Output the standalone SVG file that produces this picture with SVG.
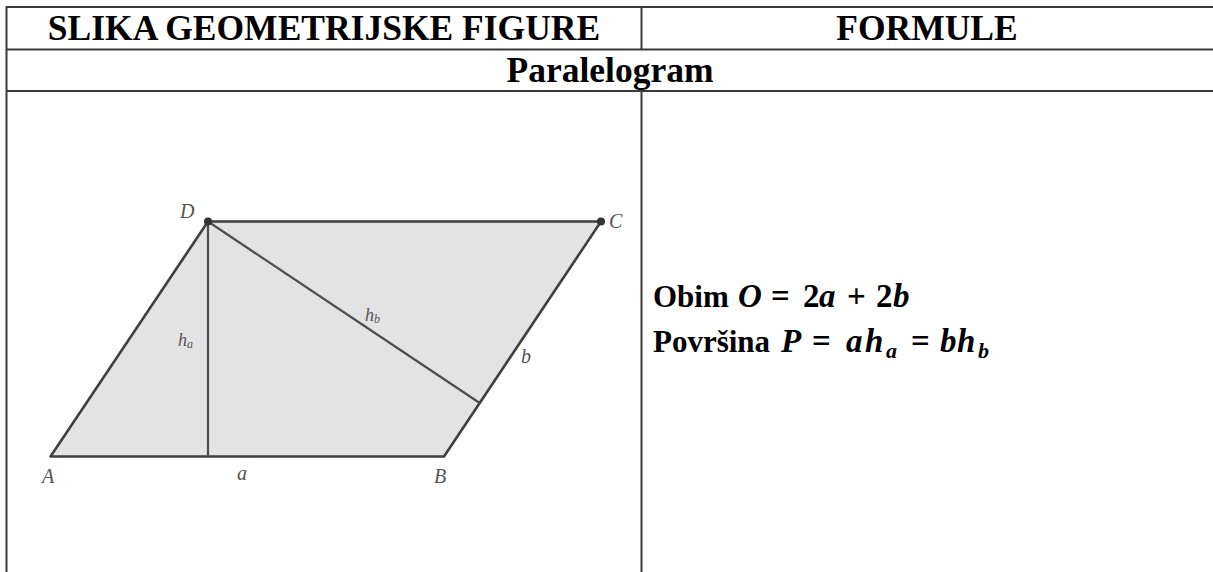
<svg xmlns="http://www.w3.org/2000/svg" width="1213" height="572" viewBox="0 0 1213 572">
  <style>
    .grid { stroke: #3a3a3a; stroke-width: 2; fill: none; }
    .head { font-family: "Liberation Serif", "Times New Roman", serif; font-weight: bold; font-size: 35.5px; fill: #000; text-anchor: middle; }
    .txt { font-family: "Liberation Serif", "Times New Roman", serif; font-weight: bold; font-size: 31px; fill: #000; }
    .mi { font-style: italic; font-size: 33px; }
    .mo { font-size: 33px; }
    .sub { font-size: 22px; font-style: italic; }
    .edge { stroke: #3f3f3f; stroke-width: 2.6; fill: none; stroke-linejoin: round; }
    .inner { stroke: #4d4d4d; stroke-width: 2.2; fill: none; }
    .lbl { font-family: "Liberation Serif", "Times New Roman", serif; font-style: italic; font-size: 20px; fill: #555; }
    .lbls { font-family: "Liberation Serif", "Times New Roman", serif; font-style: italic; font-size: 18px; fill: #555; }
    .lblsub { font-size: 12px; }
  </style>
  <rect x="0" y="0" width="1213" height="572" fill="#fff"/>

  <g id="table">
    <line class="grid" x1="6.5" y1="7" x2="1213" y2="7"/>
    <line class="grid" x1="6.5" y1="49.5" x2="1213" y2="49.5"/>
    <line class="grid" x1="6.5" y1="91" x2="1213" y2="91"/>
    <line class="grid" x1="6.5" y1="6" x2="6.5" y2="572"/>
    <line class="grid" x1="641.5" y1="7" x2="641.5" y2="49.5"/>
    <line class="grid" x1="641.5" y1="91" x2="641.5" y2="572"/>
  </g>

  <g id="header-left"><text class="head" x="324" y="40">SLIKA GEOMETRIJSKE FIGURE</text></g>
  <g id="header-right"><text class="head" x="927" y="40">FORMULE</text></g>
  <g id="title-row"><text class="head" x="610" y="82">Paralelogram</text></g>

  <g id="figure">
    <polygon points="50.5,456.5 444,456.5 601,221.5 208,221.5" fill="#e3e3e3" stroke="none"/>
    <g id="connectors">
      <polygon class="edge" points="50.5,456.5 444,456.5 601,221.5 208,221.5"/>
      <line class="inner" x1="208" y1="221.5" x2="208" y2="456.5"/>
      <line class="inner" x1="208" y1="221.5" x2="479.7" y2="403"/>
    </g>
    <circle cx="208" cy="221.5" r="4" fill="#333"/>
    <circle cx="601" cy="221.5" r="4" fill="#333"/>
    <text class="lbl" x="180" y="218">D</text>
    <text class="lbl" x="609" y="228">C</text>
    <text class="lbl" x="42" y="483">A</text>
    <text class="lbl" x="434" y="483">B</text>
    <text class="lbl" x="237" y="480">a</text>
    <text class="lbl" x="521" y="363">b</text>
    <text class="lbls" x="178" y="346">h<tspan class="lblsub" dy="2">a</tspan></text>
    <text class="lbls" x="365" y="321">h<tspan class="lblsub" dy="2">b</tspan></text>
  </g>

  <g id="formula-perimeter">
    <text class="txt" y="306.7"><tspan x="653">Obim</tspan><tspan class="mi" x="738">O</tspan><tspan class="mo" x="771">=</tspan><tspan class="mo" x="803">2</tspan><tspan class="mi" x="819">a</tspan><tspan class="mo" x="847">+</tspan><tspan class="mo" x="876">2</tspan><tspan class="mi" x="893">b</tspan></text>
  </g>
  <g id="formula-area">
    <text class="txt" y="351.7"><tspan x="653">Površina</tspan><tspan class="mi" x="781">P</tspan><tspan class="mo" x="812">=</tspan><tspan class="mi" x="846">a</tspan><tspan class="mi" x="865">h</tspan><tspan class="sub" x="886" y="358">a</tspan><tspan class="mo" x="911" y="351.7">=</tspan><tspan class="mi" x="940">b</tspan><tspan class="mi" x="957">h</tspan><tspan class="sub" x="978" y="358">b</tspan></text>
  </g>
</svg>
